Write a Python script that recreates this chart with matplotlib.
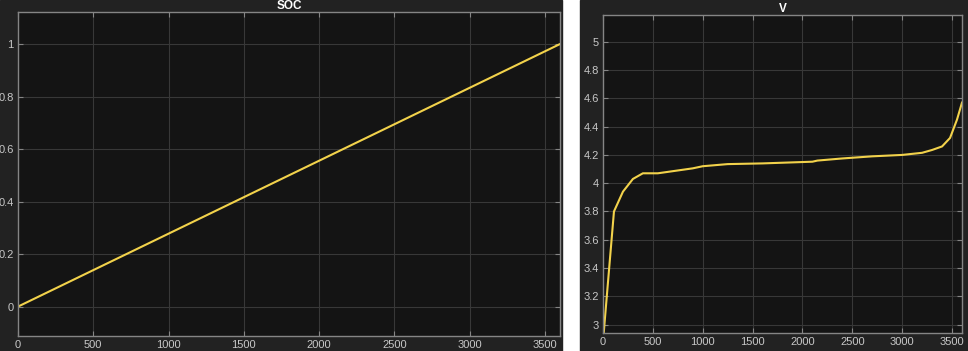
import numpy as np
import matplotlib
matplotlib.use('Agg')
import matplotlib.pyplot as plt
from matplotlib.patches import Rectangle
from matplotlib.ticker import FormatStrFormatter

plt.rcParams['font.family'] = ['Liberation Sans', 'DejaVu Sans']

# SOC ramps linearly over the charge
soc_t = [0, 3600]
soc_v = [0.0, 1.0]

# terminal voltage
v_t = [0, 50, 110, 200, 300, 400, 550, 700, 900, 1000, 1250, 1600,
       2100, 2150, 2400, 2700, 3000, 3200, 3300, 3400, 3480, 3550, 3600]
v_v = [2.88, 3.30, 3.80, 3.94, 4.03, 4.07, 4.07, 4.085, 4.105, 4.12, 4.135, 4.14,
       4.152, 4.16, 4.175, 4.19, 4.20, 4.215, 4.235, 4.26, 4.32, 4.45, 4.57]

x_ticks = [0, 500, 1000, 1500, 2000, 2500, 3000, 3500]
soc_ticks = [0, 0.2, 0.4, 0.6, 0.8, 1.0]
v_ticks = [3, 3.2, 3.4, 3.6, 3.8, 4, 4.2, 4.4, 4.6, 4.8, 5]

W, H = 968, 351
PANEL = '#222222'
AXBG = '#141414'
GRID = '#383838'
SPINE = '#858585'
TXT = '#c8c8c8'
LINE = '#f2d24b'

fig = plt.figure(figsize=(W / 100, H / 100), dpi=100, facecolor='white')
# the two dark panels behind the axes
fig.add_artist(Rectangle((0, 0), 562 / W, 1, transform=fig.transFigure,
                         color=PANEL, zorder=-10))
fig.add_artist(Rectangle((580 / W, 0), 388 / W, 1, transform=fig.transFigure,
                         color=PANEL, zorder=-10))


def style(ax, title):
    ax.set_facecolor(AXBG)
    for s in ax.spines.values():
        s.set_color(SPINE)
        s.set_linewidth(1.0)
    ax.tick_params(direction='in', colors=SPINE, labelcolor=TXT, labelsize=8,
                   top=True, right=True, length=3.5, width=0.8, pad=3)
    ax.grid(True, color=GRID, linewidth=0.8)
    ax.set_axisbelow(True)
    ax.set_title(title, color='white', fontsize=8.5, fontweight='bold', pad=2.5)


ax1 = fig.add_axes([18 / W, (H - 336) / H, (560 - 18) / W, (336 - 12) / H])
ax1.plot(soc_t, soc_v, color=LINE, linewidth=1.5)
ax1.set_xlim(0, 3600)
ax1.set_ylim(-0.112, 1.122)
ax1.set_xticks(x_ticks)
ax1.set_yticks(soc_ticks)
ax1.yaxis.set_major_formatter(FormatStrFormatter('%g'))
style(ax1, 'SOC')

ax2 = fig.add_axes([603 / W, (H - 333) / H, (962 - 603) / W, (333 - 15) / H])
ax2.plot(v_t, v_v, color=LINE, linewidth=1.5)
ax2.set_xlim(0, 3600)
ax2.set_ylim(2.94, 5.19)
ax2.set_xticks(x_ticks)
ax2.set_yticks(v_ticks)
ax2.yaxis.set_major_formatter(FormatStrFormatter('%g'))
style(ax2, 'V')

fig.savefig('out.png', dpi=100, facecolor=fig.get_facecolor())
